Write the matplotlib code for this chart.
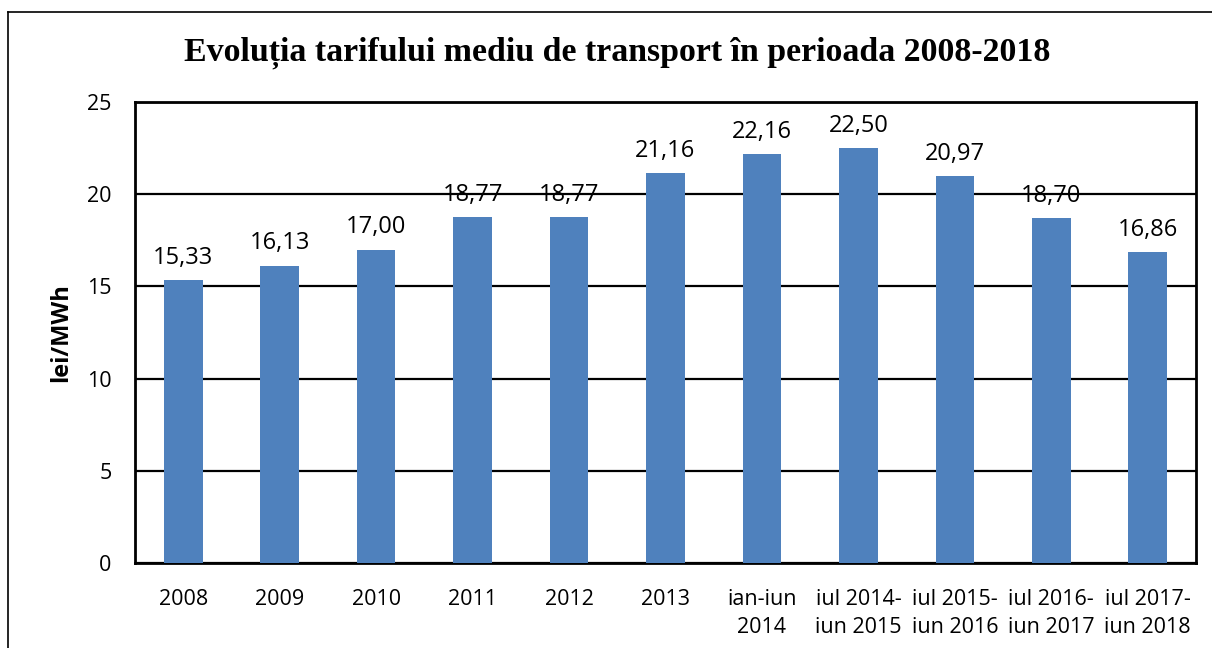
import matplotlib
matplotlib.use("Agg")
import matplotlib.pyplot as plt
from matplotlib.lines import Line2D

categories = ["2008", "2009", "2010", "2011", "2012", "2013", "ian-iun\n2014",
              "iul 2014-\niun 2015", "iul 2015-\niun 2016", "iul 2016-\niun 2017",
              "iul 2017-\niun 2018"]
values = [15.33, 16.13, 17.00, 18.77, 18.77, 21.16, 22.16, 22.50, 20.97, 18.70, 16.86]
yticks = [0, 5, 10, 15, 20, 25]

title = "Evoluția tarifului mediu de transport în perioada 2008-2018"
ylabel = "lei/MWh"

sans = ["Open Sans", "DejaVu Sans"]
fig = plt.figure(figsize=(12.12, 6.48), dpi=100)
ax = fig.add_axes([135/1212, 85/648, 1061/1212, 461/648])

x = list(range(len(categories)))
ax.bar(x, values, width=0.4, color="#4f81bd", zorder=3)
ax.set_xlim(-0.5, len(categories) - 0.5)
ax.set_ylim(0, 25)
ax.set_yticks(yticks)
ax.set_yticklabels([str(t) for t in yticks], fontfamily=sans, fontsize=15.5)
ax.set_xticks(x)
ax.set_xticklabels(categories, fontfamily=sans, fontsize=15.5, linespacing=1.4)
ax.tick_params(length=0)
ax.tick_params(axis="x", pad=19)
ax.tick_params(axis="y", pad=17)
ax.grid(axis="y", color="black", linewidth=1.6, zorder=1)
for s in ax.spines.values():
    s.set_linewidth(2)
    s.set_color("black")

for xi, v in zip(x, values):
    ax.text(xi, v + 0.55, f"{v:.2f}".replace(".", ","), ha="center", va="bottom",
            fontfamily=sans, fontsize=17)

ax.set_ylabel(ylabel, fontfamily=sans, fontsize=17, fontweight="bold", labelpad=10)

fig.text(617/1212, 1 - 61/648, title, ha="center", va="baseline",
         fontfamily="Liberation Serif", fontsize=24.4, fontweight="bold")

# outer frame (left & top edges visible)
fig.add_artist(Line2D([8/1212, 8/1212], [0, 1 - 12/648], transform=fig.transFigure,
                      color="black", linewidth=1.2))
fig.add_artist(Line2D([8/1212, 1], [1 - 12/648, 1 - 12/648], transform=fig.transFigure,
                      color="black", linewidth=1.2))

fig.savefig("out.png", dpi=100, facecolor="white")
